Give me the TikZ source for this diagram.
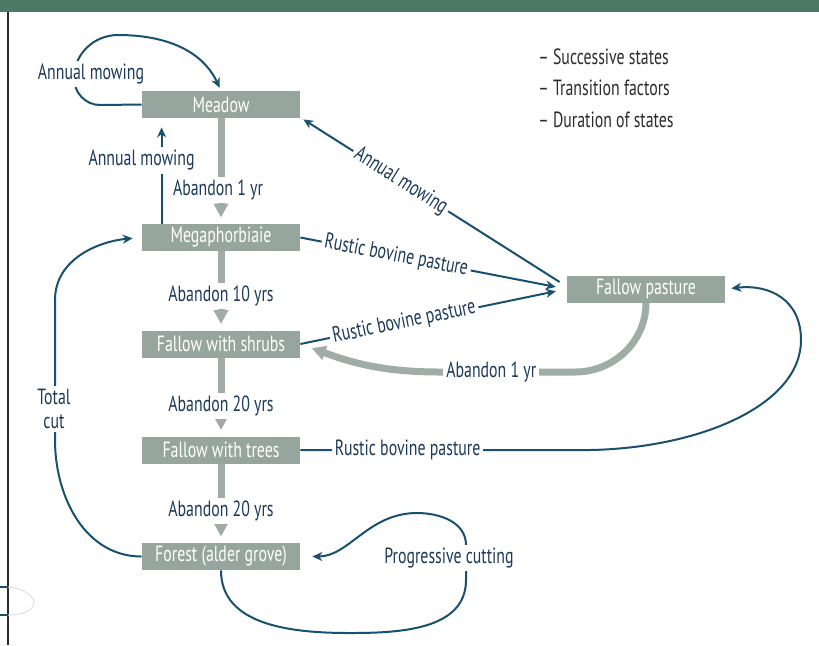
\documentclass[tikz,border=0pt]{standalone}
\usepackage{fontspec}
\setmainfont{PT Sans}[FakeStretch=0.72]
\usepackage{xcolor}
\usetikzlibrary{arrows.meta,calc}
\definecolor{barGreen}{RGB}{76,122,102}
\definecolor{boxGray}{RGB}{150,166,158}
\definecolor{arrGray}{RGB}{160,173,167}
\definecolor{lineBlue}{RGB}{24,80,110}
\definecolor{labBlue}{RGB}{27,58,92}
\definecolor{legGray}{RGB}{43,43,43}

\begin{document}
\begin{tikzpicture}[x=0.5pt,y=-0.5pt,
    stbox/.style={fill=boxGray,text=white,minimum width=79pt,minimum height=13.5pt,inner sep=0pt,font=\fontsize{11}{12}\selectfont},
    lab/.style={text=labBlue,font=\fontsize{11}{12}\selectfont,inner sep=1.5pt},
    wlab/.style={lab,fill=white},
    leg/.style={text=legGray,font=\fontsize{11}{12}\selectfont,anchor=west,inner sep=0pt},
    grayarr/.style={draw=arrGray,line width=3.5pt,shorten >=3pt,-{Triangle[length=7pt,width=7pt]}},
    bluearr/.style={draw=lineBlue,line width=1pt,-{Stealth[length=5pt,width=4.5pt]}}]
  \useasboundingbox (0,0) rectangle (819,645);
  % page frame
  \fill[barGreen] (0,0) rectangle (819,12);
  \draw[legGray,line width=0.75pt] (8,12) -- (8,645);
  \draw[lineBlue,line width=0.75pt] (0,587) -- (8,587) (0,615) -- (8,615);
  \draw[gray!25,line width=0.5pt] (8,587) .. controls (40,590) and (45,615) .. (8,615);

  % states
  \node[stbox] (Meadow) at (221,104.5) {Meadow};
  \node[stbox] (Mega) at (221,237.5) {Megaphorbiaie};
  \node[stbox] (Shrubs) at (221,344) {Fallow with shrubs};
  \node[stbox] (Trees) at (221,450) {Fallow with trees};
  \node[stbox] (Forest) at (221,556.5) {Forest (alder grove)};
  \node[stbox] (FP) at (646,289) {Fallow pasture};

  % legend
  \node[leg] (leg1) at (538,57) {– Successive states};
  \node[leg] (leg2) at (538,88) {– Transition factors};
  \node[leg] (leg3) at (538,120) {– Duration of states};

  % durations
  \draw[grayarr] (Meadow) -- node[wlab,pos=0.68,xshift=-1.5pt]{Abandon 1 yr} (Mega);
  \draw[grayarr] (Mega) -- node[wlab,pos=0.57]{Abandon 10 yrs} (Shrubs);
  \draw[grayarr] (Shrubs) -- node[wlab,pos=0.61]{Abandon 20 yrs} (Trees);
  \draw[grayarr] (Trees) -- node[wlab,pos=0.6]{Abandon 20 yrs} (Forest);
  \draw[grayarr,shorten >=6pt] (FP.south) to[out=-90,in=0] (575,372)
    -- node[wlab,pos=0.62]{Abandon 1 yr} (440,372) to[out=180,in=-20] (Shrubs.east);

  % transition factors
  \draw[bluearr,shorten >=1.5pt] (Meadow.west) -- (100,105) to[out=180,in=-90] (74,78)
    to[out=90,in=180] (118,35) to[out=0,in=115] (Meadow.north);
  \node[wlab] (mow1) at (91,74) {Annual mowing};
  \draw[bluearr,shorten >=4.5pt] ($(Mega.north west)+(20,0)$) --
    node[wlab,pos=0.6,xshift=-10pt]{Annual mowing} ($(Meadow.south west)+(20,0)$);
  \draw[bluearr] ($(FP.west)+(-7,-7)$) --
    node[wlab,sloped,pos=0.62]{Annual mowing} ($(Meadow.south east)+(3,1)$);
  \draw[bluearr,shorten >=5.5pt] (Mega.east) --
    node[wlab,sloped,pos=0.36]{Rustic bovine pasture} (FP.west);
  \draw[bluearr,shorten >=5.5pt] (Shrubs.east) --
    node[wlab,sloped,pos=0.39]{Rustic bovine pasture} (FP.west);
  \draw[bluearr,shorten >=3pt] (Trees.east) --
    node[wlab,pos=0.37]{Rustic bovine pasture} (590,450)
    .. controls (700,448) and (801,405) .. (801,340)
    .. controls (801,300) and (770,284) .. (FP.east);
  \draw[bluearr,shorten >=4.5pt] (Forest.west) to[out=180,in=-90] (55,440) -- (55,300)
    to[out=90,in=185] (Mega.west);
  \node[wlab,align=center] (cut) at (54,409) {Total\\cut};
  \draw[bluearr,shorten >=6pt] (Forest.south) to[out=-90,in=180] (350,633)
    to[out=0,in=-90] (466,580) -- (466,545) to[out=90,in=0] (417,513)
    to[out=180,in=0] (Forest.east);
  \node[wlab] (prog) at (449,558) {Progressive cutting};
\end{tikzpicture}
\end{document}
